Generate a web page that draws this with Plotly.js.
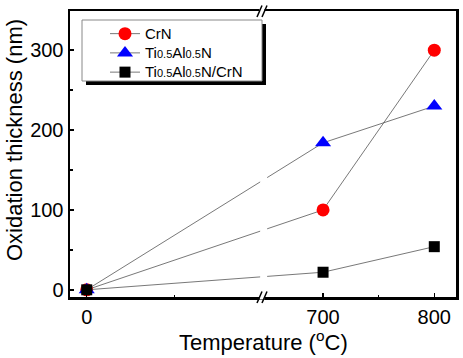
<!DOCTYPE html>
<html>
<head>
<meta charset="utf-8">
<script src="https://cdn.plot.ly/plotly-3.0.1.min.js"></script>
<style>html,body{margin:0;padding:0;background:#fff;}#chart{width:463px;height:358px;}</style>
</head>
<body>
<div id="chart"></div>
<script>
// ---- data ----
const temperatures = [0, 700, 800];
const crnThickness = [0, 100, 300];
const tialnThickness = [0, 184, 230];
const multilayerThickness = [0, 22, 54];
const SUB = s => '<span style="font-size:11px">' + s + '</span>';
const BIG = s => '<span style="font-size:15px">' + s + '</span>';
const seriesNames = ['CrN', 'Ti' + SUB('0.5') + 'Al' + SUB('0.5') + 'N', 'Ti' + SUB('0.5') + 'Al' + SUB('0.5') + 'N/CrN'];
const xTickValues = [0, 700, 800];
const xTickLabels = ['0', '700', '800'];
const xMinorValues = [100, 750];
const yTickValues = [0, 100, 200, 300];

// ---- broken x axis mapping (left segment 0..~200, right segment ~650..820) ----
const LEFT_END = 202;
const RIGHT_START = 646.6;
const RIGHT_SCALE = 1.27;
function xmap(T) { return T <= LEFT_END ? T : LEFT_END + (T - RIGHT_START) * RIGHT_SCALE; }

// pixel helpers for decorations (plot area 70..456 x, 11..297 y)
const PL = 70, PR = 456, PT = 11, PB = 297;
const px = x => (x - PL) / (PR - PL);
const py = y => (PB - y) / (PB - PT);

const font = 'Arial, "Liberation Sans", sans-serif';
const lineStyle = {color: '#555', width: 0.8};

const traces = [
  {x: temperatures.map(xmap), y: crnThickness, name: BIG(seriesNames[0]), mode: 'lines+markers',
   line: lineStyle, marker: {symbol: 'circle', size: 13, color: '#ff0000'}},
  {x: temperatures.map(xmap), y: tialnThickness, name: BIG(seriesNames[1]), mode: 'lines+markers',
   line: lineStyle, marker: {symbol: 'triangle-up', size: 14, color: '#0000ff'}},
  {x: temperatures.map(xmap), y: multilayerThickness, name: BIG(seriesNames[2]), mode: 'lines+markers',
   line: lineStyle, marker: {symbol: 'square', size: 11, color: '#000000'}}
];

const shapes = [
  // gap in the lines at the axis break
  {type: 'rect', xref: 'x', yref: 'paper', x0: LEFT_END - 4, x1: LEFT_END + 4, y0: 0.015, y1: 0.985,
   fillcolor: '#fff', line: {width: 0}, layer: 'above'},
  // legend shadow and box
  {type: 'rect', xref: 'paper', yref: 'paper', x0: px(86), x1: px(266), y0: py(85), y1: py(24),
   fillcolor: '#000', line: {width: 0}, layer: 'above'},
  {type: 'rect', xref: 'paper', yref: 'paper', x0: px(82), x1: px(262), y0: py(81), y1: py(20),
   fillcolor: '#fff', line: {color: '#888', width: 1}, layer: 'above'}
];
// break marks on top and bottom axes
[PB, PT].forEach(yy => {
  shapes.push({type: 'rect', xref: 'paper', yref: 'paper', x0: px(259.5), x1: px(264.5), y0: py(yy + 2.5), y1: py(yy - 2.5),
    fillcolor: '#fff', line: {width: 0}, layer: 'above'});
  shapes.push({type: 'line', xref: 'paper', yref: 'paper', x0: px(257), y0: py(yy + 6), x1: px(262), y1: py(yy - 5.5),
    line: {color: '#000', width: 1.5}, layer: 'above'});
  shapes.push({type: 'line', xref: 'paper', yref: 'paper', x0: px(262), y0: py(yy + 6), x1: px(267), y1: py(yy - 5.5),
    line: {color: '#000', width: 1.5}, layer: 'above'});
});

const layout = {
  width: 463, height: 358,
  margin: {l: PL, r: 463 - PR, t: PT, b: 358 - PB},
  paper_bgcolor: '#fff', plot_bgcolor: '#fff',
  font: {family: font, color: '#000'},
  showlegend: true,
  legend: {x: px(105), y: py(19), xanchor: 'left', yanchor: 'top', bgcolor: 'rgba(0,0,0,0)',
           borderwidth: 0, font: {family: font, size: 12.5, color: '#000'}, tracegroupgap: 0},
  xaxis: {
    range: [-19.1, 421.6], showgrid: false, zeroline: false,
    showline: true, linecolor: '#000', linewidth: 2.5, mirror: true,
    tickmode: 'array', tickvals: xTickValues.map(xmap), ticktext: xTickLabels,
    ticks: 'inside', ticklen: 4, tickwidth: 1.5, tickcolor: '#000',
    minor: {tickmode: 'array', tickvals: xMinorValues.map(xmap), ticks: 'inside', ticklen: 2.5, tickwidth: 1.5, tickcolor: '#000'},
    tickfont: {family: font, size: 20}
  },
  yaxis: {
    range: [-9, 349], showgrid: false, zeroline: false,
    showline: true, linecolor: '#000', linewidth: 2.5, mirror: true,
    tickmode: 'array', tickvals: yTickValues,
    ticks: 'inside', ticklen: 4, tickwidth: 1.5, tickcolor: '#000',
    minor: {dtick: 50, ticks: 'inside', ticklen: 2.5, tickwidth: 1.5, tickcolor: '#000'},
    tickfont: {family: font, size: 20}
  },
  shapes: shapes,
  annotations: [
    {text: 'Oxidation thickness (nm)', xref: 'paper', yref: 'paper', x: px(14), y: py(140),
     xanchor: 'center', yanchor: 'middle', textangle: -90, showarrow: false, borderpad: 0,
     font: {family: font, size: 22, color: '#000'}},
    {text: 'Temperature (<sup>o</sup>C)', xref: 'paper', yref: 'paper', x: px(263), y: py(341),
     xanchor: 'center', yanchor: 'middle', showarrow: false, borderpad: 0,
     font: {family: font, size: 22, color: '#000'}}
  ]
};

Plotly.newPlot('chart', traces, layout, {displayModeBar: false, staticPlot: true});
</script>
</body>
</html>
